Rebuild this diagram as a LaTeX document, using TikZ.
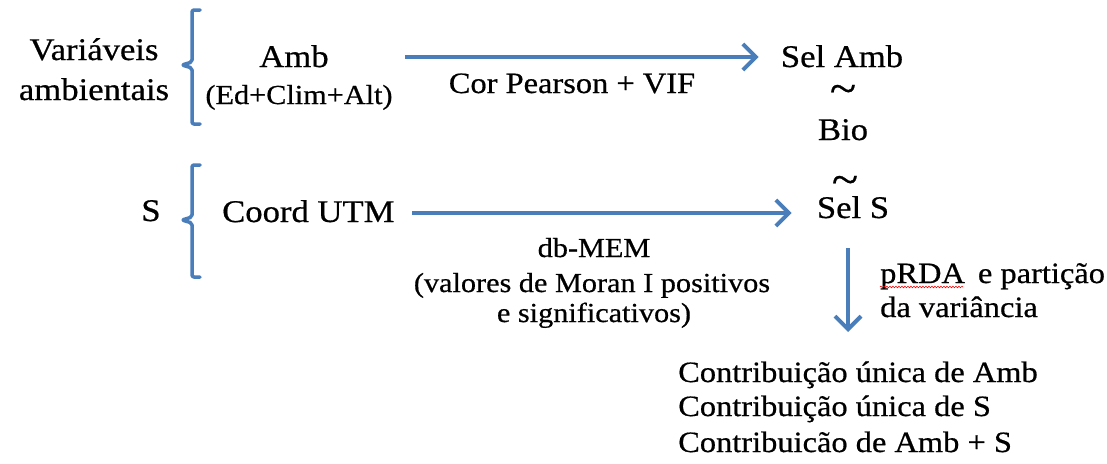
\documentclass[tikz,border=0pt]{standalone}
\usepackage{fontspec}
\setmainfont{Liberation Serif}[FakeStretch=1.1,FakeBold=0.6]
\usetikzlibrary{arrows.meta,decorations.pathmorphing}
\definecolor{azul}{HTML}{4A7EBB}

\begin{document}
\begin{tikzpicture}[x=1pt,y=-1pt,
    grande/.style={inner sep=0pt,font=\fontsize{31.5}{38}\selectfont},
    medio/.style={inner sep=0pt,font=\fontsize{29.5}{35}\selectfont},
    menor/.style={inner sep=0pt,font=\fontsize{27.5}{33}\selectfont},
    til/.style={inner sep=0pt,font=\fontsize{44}{44}\selectfont},
    seta/.style={azul,line width=4pt,-{Straight Barb[length=13pt,width=26pt]}},
    chave/.style={azul,line width=3.5pt,line cap=round,line join=round,rounded corners=2pt}]
  \useasboundingbox (0,0) rectangle (1107,463);

  % variáveis ambientais
  \node[grande,anchor=base] (var1) at (94,60) {Variáveis};
  \node[grande,anchor=base] (var2) at (94,100) {ambientais};
  \draw[chave] (200,10) -- (192,10) -- (192,62) -- (182,65) -- (192,68) -- (192,124) -- (200,124);
  \node[grande,anchor=base] (amb) at (294,67) {Amb};
  \node[menor,anchor=base] (ambsub) at (299,104) {(Ed+Clim+Alt)};

  % espaço
  \node[grande,anchor=base] (s) at (151,221) {S};
  \draw[chave] (200,165) -- (192,165) -- (192,217) -- (182,220) -- (192,223) -- (192,277) -- (200,277);
  \node[grande,anchor=base west] (coord) at (222,222) {Coord UTM};

  % coluna da direita
  \node[grande,anchor=base] (selamb) at (842,67) {Sel Amb};
  \node[til] (til1) at (843,94) {\textasciitilde};
  \node[grande,anchor=base] (bio) at (843,140) {Bio};
  \node[til] (til2) at (845,185) {\textasciitilde};
  \node[grande,anchor=base] (sels) at (853,218) {Sel S};

  % setas
  \coordinate (ini1) at (405,57);
  \coordinate (ini2) at (412,213);
  \coordinate (ini3) at (848,248);
  \coordinate (fim3) at (848,332);
  \draw[seta,shorten >=22pt] (ini1) -- (ini1 -| selamb.west);
  \draw[seta,shorten >=25pt] (ini2) -- (ini2 -| sels.west);
  \draw[seta] (ini3) -- (fim3);

  % rótulos das setas
  \node[medio,anchor=base] (cor) at (572,93) {Cor Pearson + VIF};
  \node[menor,anchor=base] (mem1) at (594,257) {db-MEM};
  \node[menor,anchor=base] (mem2) at (592,292) {(valores de Moran I positivos};
  \node[menor,anchor=base] (mem3) at (594,322) {e significativos)};
  \node[medio,anchor=base west] (prda1) at (880,283) {pRDA\, e partição};
  \node[medio,anchor=base west] (prda2) at (880,317) {da variância};
  \draw[red,line width=0.6pt,decorate,decoration={snake,amplitude=0.8pt,segment length=3pt}]
    ([yshift=-4pt]prda1.base west) -- ++(83,0);

  % resultados
  \node[medio,anchor=base west] (res1) at (678,382) {Contribuição única de Amb};
  \node[medio,anchor=base west] (res2) at (678,416) {Contribuição única de S};
  \node[medio,anchor=base west] (res3) at (678,452) {Contribuicão de Amb + S};
\end{tikzpicture}
\end{document}
